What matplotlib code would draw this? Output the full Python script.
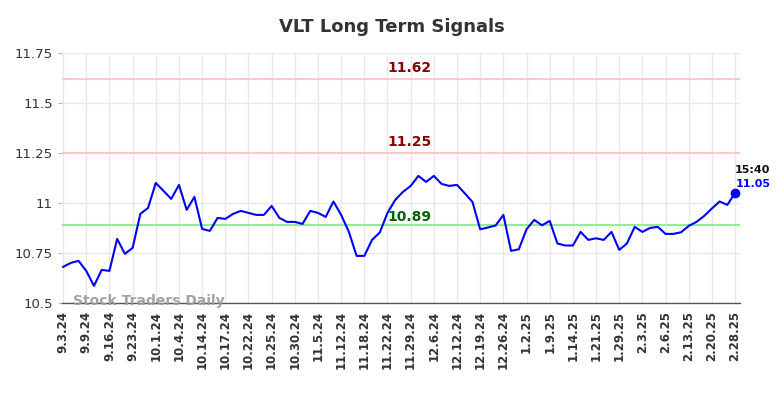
import matplotlib
matplotlib.use("Agg")
import matplotlib.pyplot as plt

dates = ["9.3.24", "9.9.24", "9.16.24", "9.23.24", "10.1.24", "10.4.24", "10.14.24",
         "10.17.24", "10.22.24", "10.25.24", "10.30.24", "11.5.24", "11.12.24", "11.18.24",
         "11.22.24", "11.29.24", "12.6.24", "12.12.24", "12.19.24", "12.26.24", "1.2.25",
         "1.9.25", "1.14.25", "1.21.25", "1.29.25", "2.3.25", "2.6.25", "2.13.25",
         "2.20.25", "2.28.25"]

prices = [10.68, 10.70, 10.71, 10.66, 10.585, 10.665, 10.66, 10.82, 10.745, 10.775,
          10.945, 10.975, 11.10, 11.06, 11.02, 11.09, 10.965, 11.03, 10.87, 10.86,
          10.925, 10.92, 10.945, 10.96, 10.95, 10.94, 10.94, 10.985, 10.925, 10.905,
          10.905, 10.895, 10.96, 10.95, 10.93, 11.007, 10.94, 10.855, 10.735, 10.735,
          10.815, 10.852, 10.95, 11.015, 11.055, 11.085, 11.135, 11.105, 11.135, 11.095,
          11.085, 11.09, 11.048, 11.005, 10.868, 10.877, 10.887, 10.94, 10.76, 10.768,
          10.868, 10.915, 10.888, 10.91, 10.797, 10.787, 10.787, 10.855, 10.815, 10.823,
          10.815, 10.855, 10.765, 10.797, 10.88, 10.855, 10.875, 10.88, 10.845, 10.845,
          10.853, 10.885, 10.905, 10.935, 10.972, 11.007, 10.99, 11.05]

levels_red = [11.62, 11.25]
level_green = 10.89
last_time = "15:40"

fig = plt.figure(figsize=(7.84, 3.98), dpi=100)
ax = fig.add_axes([0.079, 0.239, 0.865, 0.628])

x = list(range(len(prices)))
tick_pos = list(range(0, len(prices), 3))

ax.set_xlim(-0.15, len(prices) - 1 + 0.65)
ax.set_ylim(10.5, 11.75)
ax.set_yticks([10.5, 10.75, 11.0, 11.25, 11.5, 11.75])
ax.set_yticklabels(["10.5", "10.75", "11", "11.25", "11.5", "11.75"])
ax.set_xticks(tick_pos)
ax.set_xticklabels(dates, rotation=90, fontweight="bold", fontsize=8.5, color="#333333")
ax.tick_params(axis="y", labelsize=9.5, colors="#333333", length=3, color="#bbbbbb")
ax.tick_params(axis="x", length=0, pad=6)

ax.grid(True, color="#e8e8e8", linewidth=1)
ax.set_axisbelow(True)
for s in ["top", "right", "left"]:
    ax.spines[s].set_visible(False)
ax.spines["bottom"].set_color("#555555")
ax.spines["bottom"].set_linewidth(1)

mid = 44.8
for lv in levels_red:
    ax.text(mid, lv + 0.018, f"{lv:.2f}", color="#8b0000", fontweight="bold",
            fontsize=10, ha="center", va="bottom")
    ax.axhline(lv, color="#ffc8c8", linewidth=1.5, zorder=1)
ax.axhline(level_green, color="#90ee90", linewidth=1.5, zorder=1)
ax.text(mid, level_green + 0.003, f"{level_green:.2f}", color="#006400", fontweight="bold",
        fontsize=10, ha="center", va="bottom")

ax.plot(x, prices, color="#0000ff", linewidth=1.5, zorder=3)
ax.plot([x[-1]], [prices[-1]], "o", color="#0000ff", markersize=6, zorder=4)
ax.text(x[-1] + 2.3, prices[-1] + 0.09, last_time, color="#111111", fontweight="bold",
        fontsize=8, ha="center", va="bottom", clip_on=False)
ax.text(x[-1] + 2.3, prices[-1] + 0.022, f"{prices[-1]:.2f}", color="#0000ff",
        fontweight="bold", fontsize=8, ha="center", va="bottom", clip_on=False)

ax.text(1.3, 10.507, "Stock Traders Daily", color="#999999", fontweight="bold",
        fontsize=10, ha="left", va="center", alpha=0.9, zorder=5)

fig.suptitle("VLT Long Term Signals", fontsize=13, fontweight="bold", color="#333333",
             y=0.955)

fig.savefig("out.png", dpi=100)
